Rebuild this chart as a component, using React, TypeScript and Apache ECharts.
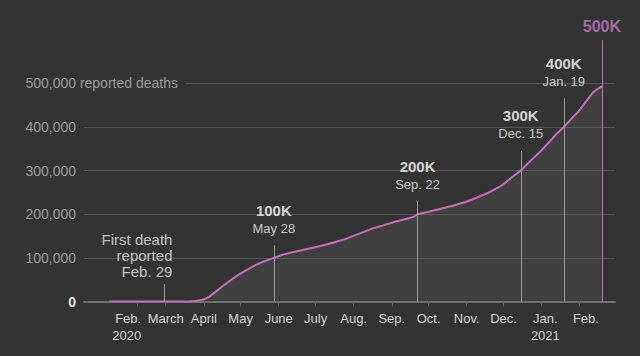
import React, { useEffect, useRef } from 'react';
import * as echarts from 'echarts';

// Cumulative reported U.S. deaths
const dates = [
  '2020-01-15', '2020-02-01', '2020-02-29', '2020-03-10', '2020-03-20', '2020-03-25', '2020-03-31',
  '2020-04-05', '2020-04-10', '2020-04-15', '2020-04-20', '2020-04-25', '2020-04-30',
  '2020-05-05', '2020-05-10', '2020-05-15', '2020-05-20', '2020-05-28',
  '2020-06-05', '2020-06-15', '2020-06-25', '2020-07-05', '2020-07-15', '2020-07-25',
  '2020-08-05', '2020-08-15', '2020-08-25', '2020-09-05', '2020-09-15', '2020-09-19', '2020-09-22',
  '2020-10-01', '2020-10-10', '2020-10-20', '2020-10-31', '2020-11-10', '2020-11-20', '2020-11-30',
  '2020-12-07', '2020-12-15', '2020-12-22', '2020-12-31', '2021-01-07', '2021-01-13', '2021-01-19',
  '2021-01-25', '2021-02-01', '2021-02-06', '2021-02-12', '2021-02-15', '2021-02-19',
];
const deaths = [
  0, 0, 1, 30, 250, 1000, 4000,
  10000, 21000, 32000, 43000, 53000, 63000,
  71000, 79000, 86000, 92000, 100000,
  108000, 114500, 121000, 127000, 134500, 143000,
  155000, 166000, 174500, 184000, 191000, 194500, 200000,
  205500, 212000, 219000, 228000, 239000, 251000, 267000,
  283000, 300000, 320000, 344000, 365000, 384000, 400000,
  418000, 439000, 458000, 480000, 486000, 493000,
];

// X axis ticks and labels
const tickDates = [
  '2020-02-07', '2020-03-01', '2020-04-01', '2020-05-01', '2020-06-01', '2020-07-01', '2020-08-01',
  '2020-09-01', '2020-10-01', '2020-11-01', '2020-12-01', '2021-01-01', '2021-02-01',
];
const labelDates = [
  '2020-01-28', '2020-03-01', '2020-04-01', '2020-05-01', '2020-06-01', '2020-07-01', '2020-08-01',
  '2020-09-01', '2020-10-01', '2020-11-01', '2020-12-01', '2021-01-04', '2021-02-06',
];
const monthLabels = [
  'Feb.\n2020', 'March', 'April', 'May', 'June', 'July', 'Aug.',
  'Sep.', 'Oct.', 'Nov.', 'Dec.', 'Jan.\n2021', 'Feb.',
];

// Milestone annotations
const annotDates = ['2020-02-29', '2020-05-28', '2020-09-22', '2020-12-15', '2021-01-19', '2021-02-19'];
const annotTops = [40000, 129000, 230000, 345000, 466000, 599000];
const annotTitles = ['', '100K', '200K', '300K', '400K', '500K'];
const annotSubs = ['First death\nreported\nFeb. 29', 'May 28', 'Sep. 22', 'Dec. 15', 'Jan. 19', ''];

const yTopLabel = '500,000 reported deaths';

const FONT = '"Liberation Sans", Arial, sans-serif';
const BG = '#333333';
const PINK = '#c86ec0';

// day number (days since 1970-01-01, UTC)
const D = (s: string) => {
  const [y, m, d] = s.split('-').map(Number);
  return Math.round(Date.UTC(y, m - 1, d) / 86400000);
};

export default function App() {
  const ref = useRef<HTMLDivElement>(null);

  useEffect(() => {
    if (!ref.current) return;
    const chart = echarts.init(ref.current, undefined, { renderer: 'svg' });

    const labelDays = labelDates.map(D);
    const anchor = D('2020-03-01');
    const xMin = anchor - 66.5;
    const xMax = anchor + 365.7;

    const lineData = dates.map((d, i) => [D(d), deaths[i]]);

    const markData = annotDates.map((d, i) => [
      {
        coord: [D(d), 0],
        lineStyle: { color: annotTitles[i] === '500K' ? PINK : '#9a9a9a', width: 1, type: 'solid' },
      },
      { coord: [D(d), annotTops[i]] },
    ]);

    const annotData = annotDates.map((d, i) => {
      if (annotTitles[i] === '') {
        return {
          value: [D(d), annotTops[i]],
          label: {
            show: true,
            position: 'top',
            distance: 5,
            align: 'right',
            offset: [8, 0],
            formatter: annotSubs[i],
            color: '#e8e8e8',
            fontSize: 15,
            lineHeight: 16,
            fontFamily: FONT,
          },
        };
      }
      if (annotSubs[i] === '') {
        return {
          value: [D(d), annotTops[i]],
          label: {
            show: true,
            position: 'top',
            distance: 5,
            formatter: `{p|${annotTitles[i]}}`,
            rich: {
              p: { color: '#c77ac4', fontSize: 16, fontWeight: 'bold', fontFamily: FONT, lineHeight: 18 },
            },
          },
        };
      }
      return {
        value: [D(d), annotTops[i]],
        label: {
          show: true,
          position: 'top',
          distance: 8,
          formatter: `{k|${annotTitles[i]}}\n{d|${annotSubs[i]}}`,
          rich: {
            k: { color: '#ffffff', fontSize: 15, fontWeight: 'bold', fontFamily: FONT, lineHeight: 18 },
            d: { color: '#f0f0f0', fontSize: 13, fontFamily: FONT, lineHeight: 18 },
          },
        },
      };
    });

    chart.setOption({
      animation: false,
      backgroundColor: BG,
      grid: { left: 84, right: 25, top: 39.7, bottom: 54.5, containLabel: false },
      xAxis: {
        type: 'value',
        min: xMin,
        max: xMax,
        splitLine: { show: false },
        axisLine: { show: true, onZero: false, lineStyle: { color: '#707070', width: 2 } },
        axisTick: {
          show: true,
          length: 5,
          customValues: tickDates.map(D),
          lineStyle: { color: '#606060', width: 1 },
        },
        axisLabel: {
          show: true,
          customValues: labelDays,
          hideOverlap: false,
          margin: 8,
          color: '#d4d4d4',
          fontSize: 13,
          lineHeight: 17,
          fontFamily: FONT,
          verticalAlign: 'top',
          formatter: (v: number) => {
            const i = labelDays.indexOf(Math.round(v));
            if (i < 0) return '';
            const lab = monthLabels[i];
            if (i === 0) return lab.split('\n').map((l) => `{r|${l}}`).join('\n');
            return lab;
          },
          rich: {
            r: { width: 32, align: 'right', color: '#d4d4d4', fontSize: 13, lineHeight: 17, fontFamily: FONT },
          },
        },
      },
      yAxis: {
        type: 'value',
        min: 0,
        max: 600000,
        interval: 100000,
        axisLine: { show: false },
        axisTick: { show: false },
        splitLine: {
          show: true,
          lineStyle: {
            color: ['#555555', '#555555', '#555555', '#555555', '#555555', '#555555', 'rgba(0,0,0,0)'],
            width: 1,
          },
        },
        axisLabel: {
          margin: 8,
          color: '#9c9c9c',
          fontSize: 14,
          fontFamily: FONT,
          formatter: (v: number) => {
            if (v === 0) return '{z|0}';
            if (v >= 500000) return '';
            return v.toLocaleString('en-US');
          },
          rich: {
            z: { color: '#e0e0e0', fontWeight: 'bold', fontSize: 14, fontFamily: FONT },
          },
        },
      },
      series: [
        {
          type: 'line',
          data: lineData,
          showSymbol: false,
          symbol: 'none',
          smooth: false,
          lineStyle: { color: PINK, width: 2 },
          areaStyle: { color: 'rgba(117,102,111,0.35)' },
          z: 3,
          markLine: {
            silent: true,
            symbol: ['none', 'none'],
            label: { show: false },
            lineStyle: { color: '#9a9a9a', width: 1, type: 'solid' },
            data: markData,
          },
        },
        {
          type: 'scatter',
          data: annotData,
          symbolSize: 0,
          silent: true,
          z: 5,
        },
      ],
    });

    // "500,000 reported deaths" label extending over the grid
    const yPix = chart.convertToPixel({ yAxisIndex: 0 }, 500000) as unknown as number;
    const ctx = document.createElement('canvas').getContext('2d');
    let w = 50;
    if (ctx) {
      ctx.font = `14px ${FONT}`;
      w = ctx.measureText('500,000').width;
    }
    chart.setOption({
      graphic: [
        {
          type: 'text',
          x: 84 - 8 - w,
          y: yPix,
          z: 100,
          style: {
            text: yTopLabel,
            fill: '#9c9c9c',
            font: `14px ${FONT}`,
            verticalAlign: 'middle',
            backgroundColor: BG,
            padding: [3, 8, 3, 0],
          },
        },
      ],
    });

    return () => chart.dispose();
  }, []);

  return (
    <div
      ref={ref}
      style={{ position: 'fixed', left: 0, top: 0, width: 640, height: 356, background: BG }}
    />
  );
}
